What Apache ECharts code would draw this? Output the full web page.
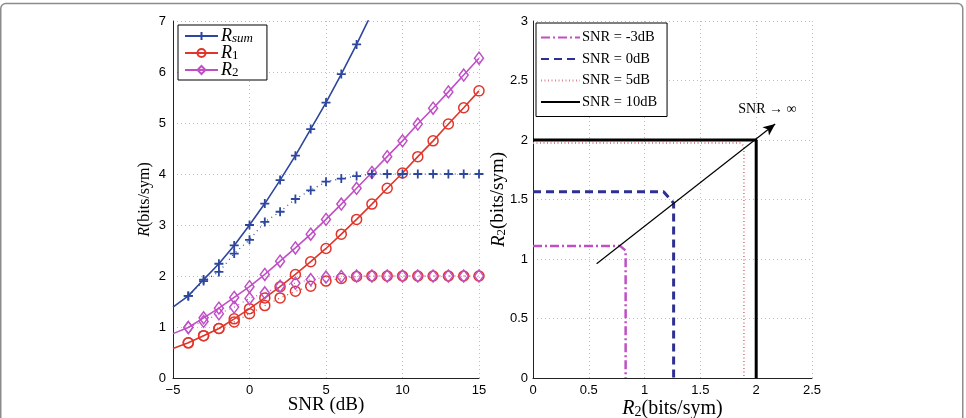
<!DOCTYPE html>
<html>
<head>
<meta charset="utf-8">
<script src="https://cdn.jsdelivr.net/npm/echarts@6/dist/echarts.min.js"></script>
<style>
  html, body { margin: 0; padding: 0; background: #fff; }
  #chart { width: 966px; height: 418px; }
</style>
</head>
<body>
<div id="chart"></div>
<script>
// left panel: rates vs SNR (solid = upper, dotted = saturating)
const snrLine = [-5, -4, -3, -2, -1, 0, 1, 2, 3, 4, 5, 6, 7, 8, 9, 10, 11, 12, 13, 14, 15]
const snrMarks = [-4, -3, -2, -1, 0, 1, 2, 3, 4, 5, 6, 7, 8, 9, 10, 11, 12, 13, 14, 15]
const rsumX = [-5, -4, -3, -2, -1, 0, 1, 2, 3, 4, 5, 6, 7, 8]
const rsumSolid = [1.39, 1.61, 1.93, 2.24, 2.60, 3.00, 3.42, 3.88, 4.36, 4.88, 5.40, 5.96, 6.54, 7.16]
const r1Solid = [0.58, 0.69, 0.83, 0.97, 1.16, 1.36, 1.57, 1.79, 2.03, 2.28, 2.54, 2.82, 3.11, 3.41, 3.72, 4.02, 4.34, 4.65, 4.98, 5.30, 5.63]
const r2Solid = [0.87, 0.99, 1.18, 1.37, 1.58, 1.79, 2.03, 2.29, 2.55, 2.82, 3.11, 3.41, 3.72, 4.03, 4.34, 4.65, 4.98, 5.29, 5.61, 5.94, 6.27]
const rsumDotted = [1.61, 1.90, 2.08, 2.44, 2.71, 3.06, 3.26, 3.51, 3.68, 3.85, 3.91, 3.96, 4.0, 4.0, 4.0, 4.0, 4.0, 4.0, 4.0, 4.0]
const r1Dotted = [0.69, 0.83, 0.97, 1.10, 1.26, 1.42, 1.57, 1.70, 1.80, 1.90, 1.95, 1.99, 2.0, 2.0, 2.0, 2.0, 2.0, 2.0, 2.0, 2.0]
const r2Dotted = [0.99, 1.11, 1.26, 1.39, 1.56, 1.67, 1.80, 1.86, 1.93, 1.98, 1.99, 2.0, 2.0, 2.0, 2.0, 2.0, 2.0, 2.0, 2.0, 2.0]

// right panel: rate regions (R1, R2 corner points)
const regionM3R1 = [0, 0.78, 0.83, 0.83]
const regionM3R2 = [1.11, 1.11, 1.07, 0]
const region0R1 = [0, 1.17, 1.26, 1.26]
const region0R2 = [1.565, 1.565, 1.47, 0]
const region5R1 = [0, 1.86, 1.89, 1.89]
const region5R2 = [1.975, 1.975, 1.95, 0]
const region10R1 = [0, 2, 2]
const region10R2 = [2, 2, 0]
const arrowFrom = [0.57, 0.96]
const arrowTo = [2.17, 2.135]
const arrowLabelAt = [2.1, 2.26]

const BLUE = '#2d469e'
const RED = '#e0352b'
const MAG = '#c04fc6'
const serif = 'Liberation Serif'
const sans = 'Liberation Sans'

const plusSym = 'path://M5,0L5,10M0,5L10,5'

const pairs = (xs, ys) => xs.map((x, i) => [x, ys[i]])
const withEnds = (xs, ys, from, to) => xs.map((x, i) =>
  (x < from || x > to) ? { value: [x, ys[i]], symbol: 'none' } : [x, ys[i]])

const gridLine = { show: true, lineStyle: { color: '#bdbdbd', type: [1, 3], width: 1 } }
const axisLine = { show: true, onZero: false, lineStyle: { color: '#222', width: 1 } }
const tickLabel = { color: '#000', fontFamily: sans, fontSize: 13 }

const subRich = {
  i: { fontFamily: serif, fontStyle: 'italic', fontSize: 18, lineHeight: 18, verticalAlign: 'top' },
  t: { fontFamily: serif, fontSize: 18, lineHeight: 18, verticalAlign: 'top' },
  si: { fontFamily: serif, fontStyle: 'italic', fontSize: 13, lineHeight: 9, verticalAlign: 'bottom' },
  s: { fontFamily: serif, fontSize: 13, lineHeight: 9, verticalAlign: 'bottom' },
}

const chart = echarts.init(document.getElementById('chart'), null, { renderer: 'canvas' })

const option = {
  animation: false,
  backgroundColor: '#fff',
  graphic: [{
    type: 'rect',
    shape: { x: 0.75, y: 3.5, width: 962, height: 430, r: 5 },
    style: { fill: 'none', stroke: '#8c8c8c', lineWidth: 1.5 },
    silent: true,
  }],
  grid: [
    { left: 173, right: 487, top: 21, bottom: 40, outerBoundsMode: 'none' },
    { left: 533, right: 154, top: 21, bottom: 40, outerBoundsMode: 'none' },
  ],
  xAxis: [{
    gridIndex: 0, type: 'value', min: -5, max: 15, interval: 5,
    axisLine, axisTick: { show: false }, splitLine: gridLine,
    axisLabel: { ...tickLabel, margin: 6, formatter: v => String(v).replace('-', '\u2212') },
    name: 'SNR (dB)', nameLocation: 'middle', nameGap: 18, nameMoveOverlap: false,
    nameTextStyle: { fontFamily: serif, fontSize: 19, color: '#000', verticalAlign: 'top' },
  }, {
    gridIndex: 1, type: 'value', min: 0, max: 2.5, interval: 0.5,
    axisLine, axisTick: { show: false }, splitLine: gridLine,
    axisLabel: { ...tickLabel, margin: 6 },
    name: '{i|R}{s|2}{t|(bits/sym)}', nameLocation: 'middle', nameGap: 21, nameMoveOverlap: false,
    nameTextStyle: {
      color: '#000',
      rich: {
        i: { ...subRich.i, fontSize: 20, lineHeight: 20 },
        t: { ...subRich.t, fontSize: 20, lineHeight: 20 },
        s: { ...subRich.s, fontSize: 14, lineHeight: 9 },
      },
    },
  }],
  yAxis: [{
    gridIndex: 0, type: 'value', min: 0, max: 7, interval: 1,
    axisLine, axisTick: { show: false }, splitLine: gridLine,
    axisLabel: { ...tickLabel, margin: 7 },
    name: '{i|R}{t|(bits/sym)}', nameLocation: 'middle', nameGap: 18, nameMoveOverlap: false,
    nameTextStyle: {
      color: '#000',
      rich: { i: { ...subRich.i, fontSize: 16, lineHeight: 18 }, t: { ...subRich.t, fontSize: 16, lineHeight: 18 } },
    },
  }, {
    gridIndex: 1, type: 'value', min: 0, max: 3, interval: 0.5,
    axisLine, axisTick: { show: false }, splitLine: gridLine,
    axisLabel: { ...tickLabel, margin: 5 },
    name: '{i|R}{s|2}{t|(bits/sym)}', nameLocation: 'middle', nameGap: 25, nameMoveOverlap: false,
    nameTextStyle: {
      color: '#000',
      rich: {
        i: { ...subRich.i, fontSize: 19, lineHeight: 19 },
        t: { ...subRich.t, fontSize: 19, lineHeight: 19 },
        s: { ...subRich.s, fontSize: 13, lineHeight: 8 },
      },
    },
  }],
  legend: [{
    orient: 'vertical', left: 178, top: 25,
    data: ['Rsum', 'R1', 'R2'],
    backgroundColor: '#fff', borderColor: '#000', borderWidth: 1,
    padding: [2, 14, 1, 6], itemGap: -1, itemWidth: 33, itemHeight: 10,
    formatter: name => name === 'Rsum' ? '{i|R}{si|sum}' : '{i|R}{s|' + name.slice(1) + '}',
    textStyle: { color: '#000', padding: [0, 0, 0, -2], rich: subRich },
  }, {
    orient: 'vertical', left: 536, top: 23,
    data: ['SNR = -3dB', 'SNR = 0dB', 'SNR = 5dB', 'SNR = 10dB'],
    backgroundColor: '#fff', borderColor: '#000', borderWidth: 1,
    padding: [7, 10, 7, 4], itemGap: 6.5, itemWidth: 39, itemHeight: 12,
    itemStyle: { opacity: 0 },
    textStyle: { color: '#000', fontFamily: serif, fontSize: 14.5, padding: [0, 0, 0, -3] },
  }],
  series: [
    {
      name: 'Rsum', type: 'line', xAxisIndex: 0, yAxisIndex: 0,
      data: withEnds(rsumX, rsumSolid, -4, 7),
      symbol: plusSym, symbolSize: 9,
      lineStyle: { color: BLUE, width: 1.6 },
      itemStyle: { color: BLUE, borderColor: BLUE, borderWidth: 1.8 },
    },
    {
      name: 'R1', type: 'line', xAxisIndex: 0, yAxisIndex: 0,
      data: withEnds(snrLine, r1Solid, -4, 15),
      symbol: 'circle', symbolSize: 10,
      lineStyle: { color: RED, width: 1.6 },
      itemStyle: { color: 'rgba(255,255,255,0)', borderColor: RED, borderWidth: 1.5 },
    },
    {
      name: 'R2', type: 'line', xAxisIndex: 0, yAxisIndex: 0,
      data: withEnds(snrLine, r2Solid, -4, 15),
      symbol: 'diamond', symbolSize: [9, 12],
      lineStyle: { color: MAG, width: 1.6 },
      itemStyle: { color: 'rgba(255,255,255,0)', borderColor: MAG, borderWidth: 1.5 },
    },
    {
      name: 'Rsum-lb', type: 'line', xAxisIndex: 0, yAxisIndex: 0,
      data: pairs(snrMarks, rsumDotted),
      symbol: plusSym, symbolSize: 9,
      lineStyle: { color: BLUE, width: 1.2, type: [1, 4] },
      itemStyle: { color: BLUE, borderColor: BLUE, borderWidth: 1.8 },
    },
    {
      name: 'R1-lb', type: 'line', xAxisIndex: 0, yAxisIndex: 0,
      data: pairs(snrMarks, r1Dotted),
      symbol: 'circle', symbolSize: 10,
      lineStyle: { color: RED, width: 1.2, type: [1, 4] },
      itemStyle: { color: 'rgba(255,255,255,0)', borderColor: RED, borderWidth: 1.5 },
    },
    {
      name: 'R2-lb', type: 'line', xAxisIndex: 0, yAxisIndex: 0,
      data: pairs(snrMarks, r2Dotted),
      symbol: 'diamond', symbolSize: [9, 12],
      lineStyle: { color: MAG, width: 1.2, type: [1, 4] },
      itemStyle: { color: 'rgba(255,255,255,0)', borderColor: MAG, borderWidth: 1.5 },
    },
    {
      name: 'SNR = -3dB', type: 'line', xAxisIndex: 1, yAxisIndex: 1,
      data: pairs(regionM3R1, regionM3R2), symbol: 'none',
      lineStyle: { color: MAG, width: 2.5, type: [9, 3, 2, 3] },
      itemStyle: { color: MAG },
    },
    {
      name: 'SNR = 0dB', type: 'line', xAxisIndex: 1, yAxisIndex: 1,
      data: pairs(region0R1, region0R2), symbol: 'none',
      lineStyle: { color: '#2e3192', width: 3, type: [8, 5] },
      itemStyle: { color: '#2e3192' },
    },
    {
      name: 'SNR = 5dB', type: 'line', xAxisIndex: 1, yAxisIndex: 1,
      data: pairs(region5R1, region5R2), symbol: 'none',
      lineStyle: { color: '#d9868c', width: 1.8, type: [1, 2.5] },
      itemStyle: { color: '#d9868c' },
    },
    {
      name: 'SNR = 10dB', type: 'line', xAxisIndex: 1, yAxisIndex: 1,
      data: pairs(region10R1, region10R2), symbol: 'none',
      lineStyle: { color: '#000', width: 3 },
      itemStyle: { color: '#000' },
      markLine: {
        silent: true, symbol: ['none', 'arrow'], symbolSize: [8, 12],
        label: { show: false },
        lineStyle: { color: '#000', width: 1.2, type: 'solid' },
        data: [[{ coord: arrowFrom }, { coord: arrowTo }]],
      },
      markPoint: {
        silent: true, symbol: 'circle', symbolSize: 0,
        label: { show: true, position: 'inside', formatter: 'SNR \u2192 \u221e', color: '#000', fontFamily: serif, fontSize: 14 },
        data: [{ coord: arrowLabelAt }],
      },
    },
  ],
}

chart.setOption(option)
</script>
</body>
</html>
